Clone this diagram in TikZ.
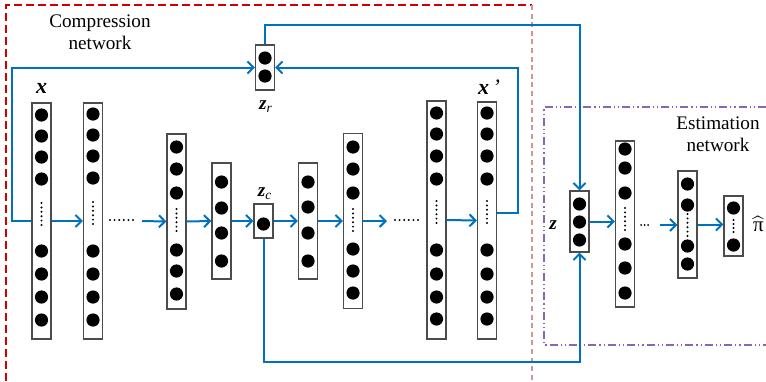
\documentclass[tikz,border=0pt]{standalone}
\usepackage{amsmath,amssymb}
\usepackage{fontspec}
\setmainfont{Liberation Serif}
\usepackage{tikz}
\usetikzlibrary{arrows.meta}

\definecolor{lineblue}{RGB}{0,112,192}
\definecolor{boxred}{RGB}{204,0,0}
\definecolor{boxrose}{RGB}{204,150,150}
\definecolor{boxpurple}{RGB}{140,100,180}

% filled units of one layer: x, list of y
\newcommand{\units}[2]{\foreach \yy in {#2} \fill (#1,\yy) circle (3.3pt);}
% small dots: x, first y (vertical)
\newcommand{\dotcol}[2]{\foreach \k in {0,...,5} \fill (#1,#2+\k*4.4) circle (0.55pt);}
% small dots: first x, y (horizontal)
\newcommand{\dotrow}[2]{\foreach \k in {0,...,5} \fill (#1+\k*4.6,#2) circle (0.55pt);}

\begin{document}
\begin{tikzpicture}[x=0.5pt,y=-0.5pt,
  layer/.style={draw=black!70, line width=0.6pt, fill=white, minimum width=9.5pt, inner sep=0pt},
  arr/.style={draw=lineblue, line width=1pt, -{Straight Barb[length=3pt,width=6pt]}},
  lab/.style={font=\fontsize{9.6}{11}\selectfont, align=center}]
\useasboundingbox (0,0) rectangle (766,381);
% the two network frames
\draw[boxred, line width=0.75pt, dash pattern=on 4pt off 2pt] (6,381) -- (6,5) -- (532,5);
\draw[boxrose, line width=1pt, dash pattern=on 2.5pt off 1.8pt] (532,5) -- (532,381);
\draw[boxpurple, line width=0.6pt, dash pattern=on 4pt off 1.5pt on 0.6pt off 1.5pt on 0.6pt off 1.5pt]
  (766,107) -- (544,107) -- (544,345) -- (766,345);
\node[lab] at (100,32) {Compression\\network};
\node[lab] at (718,134) {Estimation\\network};
%
% compression network
\node[layer, minimum height=118pt] (l1) at (41.5,221) {};
\node[layer, minimum height=118pt] (l2) at (93,221) {};
\node[layer, minimum height=87.5pt] (l3) at (176.5,221.5) {};
\node[layer, minimum height=58pt] (l4) at (221.5,221) {};
\node[layer, minimum height=17pt] (zc) at (263.5,221) {};
\node[layer, minimum height=58pt] (l6) at (308,221) {};
\node[layer, minimum height=87.5pt] (l7) at (353,221) {};
\node[layer, minimum height=119pt] (l8) at (436.5,220) {};
\node[layer, minimum height=118.5pt] (l9) at (487,220.5) {};
\node[layer, minimum height=22.5pt] (zr) at (265,67.5) {};
\units{41.5}{115,136,157,179,251,274,297,320}
\dotcol{41.5}{203}
\units{93}{114,135,156,178,251,274,297,320}
\dotcol{93}{202}
\units{176.5}{147,169,193,250,271,294}
\dotcol{176.5}{209}
\units{221.5}{182,208,233,261}
\units{263.5}{224}
\units{308}{182,207,233,261}
\units{353}{147,169,193,249,271,293}
\dotcol{353}{209}
\units{436.5}{113,134,156,179,250,274,297,319}
\dotcol{436.5}{201}
\units{487}{113,134,156,179,250,274,297,319}
\dotcol{487}{201}
\units{265}{58,76}
\dotrow{110}{220}
\dotrow{395}{220}
\node[font=\fontsize{11}{13}\selectfont] (xin) at (41.5,88) {\textbf{\textit{x}}};
\node[font=\fontsize{11}{13}\selectfont] (xout) at (489,87) {\textbf{\textit{x}}\,\textit{'}};
\node[lab] (zrlab) at (266,107) {\textbf{\textit{z}}\textsubscript{\textit{r}}};
\node[lab] (zclab) at (265,194) {\textbf{\textit{z}}\textsubscript{\textit{c}}};
%
\coordinate (d1) at (142,221);
\coordinate (d2) at (387,221);
\draw[arr] (l1.east) -- (l2.west);
\draw[arr] (d1) -- (l3.west);
\draw[arr] (l3.east) -- (l4.west);
\draw[arr] (l4.east) -- (zc.west);
\draw[arr] (zc.east) -- (l6.west);
\draw[arr] (l6.east) -- (l7.west);
\draw[arr] (l7.east) -- (d2);
\draw[arr] (l8.east) -- (l9.west);
\draw[arr] (l1.west) -- ++(-19,0) |- (zr.west);
\draw[arr] ([yshift=3.7pt]l9.east) -- ++(21,0) |- (zr.east);
%
% estimation network
\node[layer, minimum height=30.5pt] (zin) at (579.5,221.5) {};
\node[layer, minimum height=83pt] (e1) at (625,224) {};
\node[layer, minimum height=53.5pt] (e2) at (687.5,224.5) {};
\node[layer, minimum height=30pt] (eout) at (733.5,226) {};
\units{579.5}{204,222,240}
\units{625}{149,168,193,244,268,293}
\dotcol{625}{208}
\units{687.5}{184,205,246,264}
\dotcol{687.5}{214}
\units{733.5}{208,245}
\foreach \k in {0,...,3} \fill (733.5,220+\k*4) circle (0.55pt);
\foreach \k in {0,...,2} \fill (641+\k*3.5,225) circle (0.5pt);
\node[lab] (zlab) at (553,225) {\textbf{\textit{z}}};
\node[font=\fontsize{10.5}{12}\selectfont] (pilab) at (758.5,224) {$\widehat{\mbox{π}}$};
\coordinate (d3) at (660,225);
\draw[arr] (zin.east) -- (zin.east -| e1.west);
\draw[arr] (d3) -- (d3 -| e2.west);
\draw[arr] (e2.east) -- (e2.east -| eout.west);
%
% from the compression network to z
\draw[arr] (zr.north) -- ++(0,-19) -| (zin.north);
\draw[arr] (zc.south) -- ++(0,123) -| (zin.south);
%
\end{tikzpicture}
\end{document}
